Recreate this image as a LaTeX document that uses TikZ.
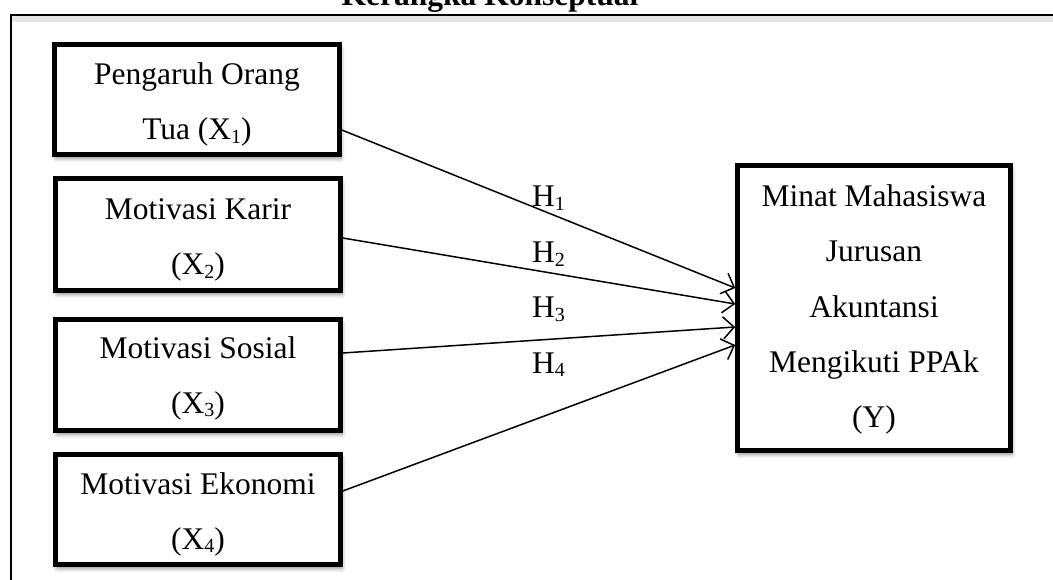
\documentclass[tikz,border=0pt]{standalone}
\usepackage{fontspec}
\setmainfont{Liberation Serif}
\usetikzlibrary{arrows.meta,shadows.blur}
\newcommand{\subd}[1]{\raisebox{-0.12em}{\fontsize{20}{20}\selectfont #1}}
\begin{document}
\begin{tikzpicture}[x=1pt,y=1pt,
  box/.style={draw=black, line width=4.6pt, fill=white, inner sep=0pt,
    blur shadow={shadow xshift=1.5pt, shadow yshift=-4pt, shadow blur radius=4pt, shadow opacity=45}},
  lbl/.style={font=\fontsize{31.5}{38}\selectfont, anchor=base, inner sep=0pt},
  hlbl/.style={font=\fontsize{31.5}{38}\selectfont, anchor=base west, inner sep=0pt},
  ttl/.style={font=\fontsize{31.5}{38}\selectfont\bfseries, anchor=base, inner sep=0pt},
  link/.style={line width=1.5pt, -{Straight Barb[length=11pt,width=22pt,line width=1.5pt]}},
  frame/.style={line width=2pt, draw=black}
]
\useasboundingbox (0,0) rectangle (1053,-580);
% title (cut off at top, as in the reference)
\node[ttl] (title) at (490,-6) {Kerangka Konseptual};
% outer frame
\fill[black!10] (12,-16) rectangle (1080,-22);
\draw[frame] (11,-620) -- (11,-15) -- (1080,-15);
% independent variables
\node[box, minimum width=285pt, minimum height=110pt] (x1) at (197,-99.5) {};
\node[box, minimum width=285pt, minimum height=112pt] (x2) at (198,-234.5) {};
\node[box, minimum width=285pt, minimum height=111pt] (x3) at (198,-375) {};
\node[box, minimum width=285pt, minimum height=110pt] (x4) at (198,-509.5) {};
% dependent variable
\node[box, minimum width=273pt, minimum height=285pt] (y) at (874,-308) {};
% texts
\node[lbl] (x1a) at (197,-85) {Pengaruh Orang};
\node[lbl] (x1b) at (197,-140) {Tua (X\subd{1})};
\node[lbl] (x2a) at (198,-220) {Motivasi Karir};
\node[lbl] (x2b) at (198,-275) {(X\subd{2})};
\node[lbl] (x3a) at (198,-358) {Motivasi Sosial};
\node[lbl] (x3b) at (198,-413) {(X\subd{3})};
\node[lbl] (x4a) at (198,-494) {Motivasi Ekonomi};
\node[lbl] (x4b) at (198,-549) {(X\subd{4})};
\node[lbl] (ya) at (874,-207) {Minat Mahasiswa};
\node[lbl] (yb) at (874,-262) {Jurusan};
\node[lbl] (yc) at (874,-317) {Akuntansi};
\node[lbl] (yd) at (874,-372) {Mengikuti PPAk};
\node[lbl] (ye) at (874,-427) {(Y)};
% connectors
\draw[link] ([yshift=-30.5pt]x1.east) -- ([yshift=20pt]y.west);
\draw[link] ([yshift=-3.5pt]x2.east) -- ([yshift=4pt]y.west);
\draw[link] ([yshift=22pt]x3.east) -- ([yshift=-19pt]y.west);
\draw[link] ([yshift=18.5pt]x4.east) -- ([yshift=-37pt]y.west);
% hypothesis labels
\node[hlbl] (h1) at (532,-207) {H\subd{1}};
\node[hlbl] (h2) at (532,-263) {H\subd{2}};
\node[hlbl] (h3) at (532,-318) {H\subd{3}};
\node[hlbl] (h4) at (532,-373) {H\subd{4}};
\end{tikzpicture}
\end{document}
